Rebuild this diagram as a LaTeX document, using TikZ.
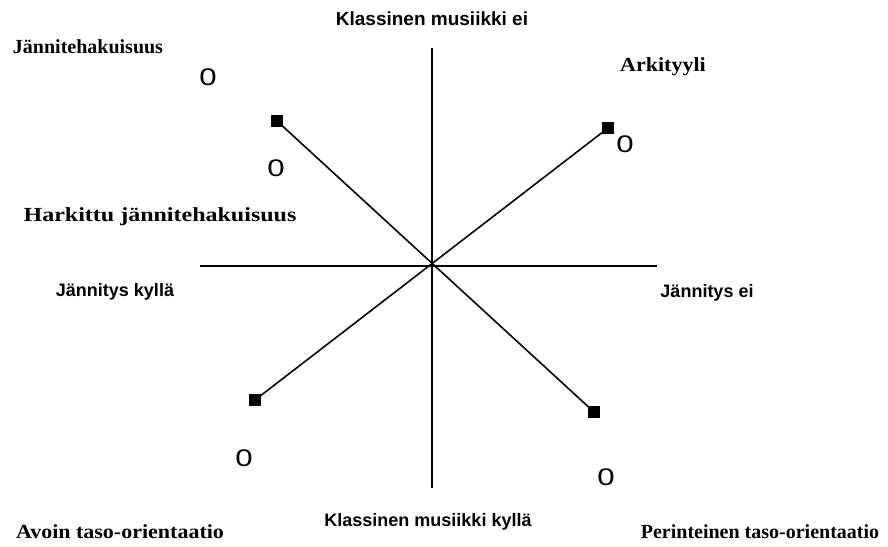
\documentclass[tikz,border=0pt]{standalone}
\usepackage{fontspec}
\setmainfont{Liberation Serif}
\setsansfont{Liberation Sans}
\begin{document}
\begin{tikzpicture}[x=1pt,y=-1pt,
  axis/.style={line width=1.2pt},
  spoke/.style={line width=1.6pt},
  marker/.style={fill=black,minimum size=12pt,inner sep=0pt,draw=none,rectangle},
  zero/.style={font=\sffamily\fontsize{24}{24}\selectfont,inner sep=0pt},
  small/.style={font=\sffamily\bfseries\fontsize{18}{20}\selectfont,inner sep=0pt,anchor=base},
  big/.style={font=\rmfamily\bfseries\fontsize{20}{22}\selectfont,inner sep=0pt,anchor=base}]
\useasboundingbox (0,0) rectangle (888,546);
\coordinate (c) at (432,265);
\coordinate (top) at (432,48);
\coordinate (bot) at (432,488);
\coordinate (left) at (200,266);
\coordinate (right) at (657,266);
\draw[axis] (top) -- (bot);
\draw[axis] (left) -- (right);
\node[marker] (ul) at (277,121) {};
\node[marker] (ur) at (608,128) {};
\node[marker] (ll) at (255,400) {};
\node[marker] (lr) at (594,412) {};
\draw[spoke] (ul.center) -- (lr.center);
\draw[spoke] (ur.center) -- (ll.center);
\node[zero] (z1) at (208,77) {\scalebox{1.3}[1]{0}};
\node[zero] (z2) at (276,168) {\scalebox{1.3}[1]{0}};
\node[zero] (z3) at (625,144) {\scalebox{1.3}[1]{0}};
\node[zero] (z4) at (244,458) {\scalebox{1.3}[1]{0}};
\node[zero] (z5) at (606,477) {\scalebox{1.3}[1]{0}};
\node[small,font=\sffamily\bfseries\fontsize{19}{21}\selectfont] (t1) at (432,25) {Klassinen musiikki ei};
\node[small] (t2) at (428,526) {Klassinen musiikki kyllä};
\node[small] (t3) at (115,296) {Jännitys kyllä};
\node[small] (t4) at (707,297) {Jännitys ei};
\node[big] (b1) at (88,53) {Jännitehakuisuus};
\node[big] (b2) at (663,71) {\scalebox{1.1}[1]{Arkityyli}};
\node[big] (b3) at (160,221) {\scalebox{1.2}[1]{Harkittu jännitehakuisuus}};
\node[big] (b4) at (120,538) {\scalebox{1.1}[1]{Avoin taso-orientaatio}};
\node[big] (b5) at (760,538) {Perinteinen taso-orientaatio};
\end{tikzpicture}
\end{document}
